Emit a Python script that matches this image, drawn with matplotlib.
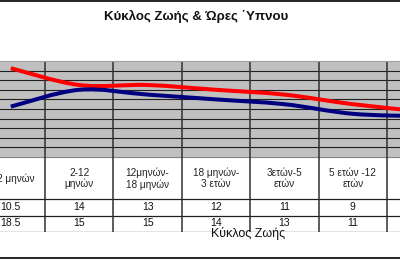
import matplotlib
matplotlib.use('Agg')
import matplotlib.pyplot as plt
from matplotlib.path import Path
from matplotlib.patches import PathPatch
from matplotlib.lines import Line2D

plt.rcParams['font.family'] = ['Liberation Sans', 'DejaVu Sans']

title = 'Κύκλος Ζωής & Ώρες ΄Υπνου'
xlabel = 'Κύκλος Ζωής'
categories = ['0-2 μηνών', '2-12\nμηνών', '12μηνών-\n18 μηνών', '18 μηνών-\n3 ετών',
              '3ετών-5\nετών', '5 ετών -12\nετών', '12-18\nετών']
min_hours = [10.5, 14, 13, 12, 11, 9, 8.5]
max_hours = [18.5, 15, 15, 14, 13, 11, 9.5]
row_labels = ['10.5', '14', '13', '12', '11', '9', '8.5']
row_labels2 = ['18.5', '15', '15', '14', '13', '11', '9.5']

W, H = 400, 260
ncat = len(categories)
colw = 68.4
x0 = 45 - colw  # left edge of first column (px)


def smooth_path(xs, ys):
    # excel-like smoothed line as cubic bezier segments
    pts = list(zip(xs, ys))
    n = len(pts)
    verts = [pts[0]]
    codes = [Path.MOVETO]
    for i in range(n - 1):
        p0 = pts[i - 1] if i > 0 else pts[i]
        p1 = pts[i]
        p2 = pts[i + 1]
        p3 = pts[i + 2] if i + 2 < n else pts[i + 1]
        c1 = (p1[0] + (p2[0] - p0[0]) / 6, p1[1] + (p2[1] - p0[1]) / 6)
        c2 = (p2[0] - (p3[0] - p1[0]) / 6, p2[1] - (p3[1] - p1[1]) / 6)
        verts += [c1, c2, p2]
        codes += [Path.CURVE4] * 3
    return Path(verts, codes)


fig = plt.figure(figsize=(W / 100, H / 100), dpi=100)
fig.patch.set_facecolor('white')

# plot area
top, bot = 61, 157
ax = fig.add_axes([x0 / W, 1 - bot / H, ncat * colw / W, (bot - top) / H])
ax.set_facecolor('#C0C0C0')
ax.set_xlim(-0.5, ncat - 0.5)
ax.set_ylim(0, 20)
for y in range(2, 20, 2):
    ax.axhline(y, color='#202020', lw=0.8)
for i in range(ncat + 1):
    ax.axvline(i - 0.5, color='#303030', lw=1.1)
xs = list(range(ncat))
ax.add_patch(PathPatch(smooth_path(xs, max_hours), fill=False, edgecolor='#FF0000', lw=2.9, zorder=3))
ax.add_patch(PathPatch(smooth_path(xs, min_hours), fill=False, edgecolor='#000080', lw=2.9, zorder=4))
ax.set_xticks([])
ax.set_yticks([])
for s in ax.spines.values():
    s.set_visible(False)
ax.spines['top'].set_visible(True)
ax.spines['top'].set_color('#A0A0A0')

# data table
tb_top, tb_bot = bot, 231.7
tab = fig.add_axes([x0 / W, 1 - tb_bot / H, ncat * colw / W, (tb_bot - tb_top) / H])
tab.set_xlim(-0.5, ncat - 0.5)
tab.set_ylim(tb_bot - tb_top, 0)
tab.axis('off')
rows = [0, 42, 58.7, tb_bot - tb_top]
for r in rows[1:]:
    tab.axhline(r, color='#202020', lw=0.9)
tab.axhline(0, color='#808080', lw=0.8)
for i in range(ncat + 1):
    tab.axvline(i - 0.5, color='#303030', lw=1.1)
for i in range(ncat):
    tab.text(i, 21.5, categories[i], ha='center', va='center', fontsize=7.2,
             color='#222222', linespacing=1.15)
    tab.text(i, 50.5, row_labels[i], ha='center', va='center', fontsize=7.5, color='#111111')
    tab.text(i, 66.5, row_labels2[i], ha='center', va='center', fontsize=7.5, color='#111111')

fig.text(196 / W, 1 - 16 / H, title, ha='center', va='center', fontsize=9.5,
         fontweight='bold', color='#111111')
fig.text(248 / W, 1 - 233 / H, xlabel, ha='center', va='center', fontsize=9, color='#111111')

# outer chart border
fig.add_artist(Line2D([0, 1], [1 - 0.5 / H, 1 - 0.5 / H], color='black', lw=1.2))
fig.add_artist(Line2D([0, 1], [1 - 258.3 / H, 1 - 258.3 / H], color='black', lw=1.2))

fig.savefig('out.png', dpi=100)
